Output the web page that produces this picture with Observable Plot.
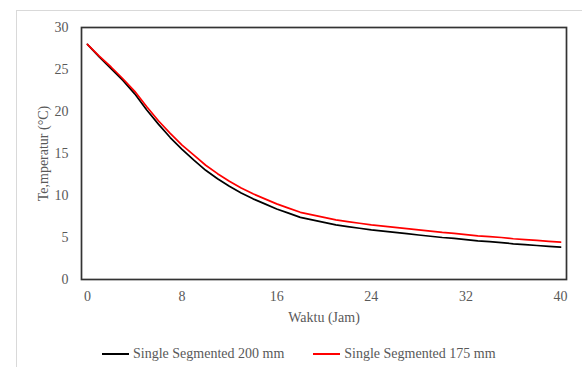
<!DOCTYPE html>
<html><head><meta charset="utf-8">
<script src="https://cdn.jsdelivr.net/npm/d3@7"></script>
<script src="https://cdn.jsdelivr.net/npm/@observablehq/plot@0.6"></script>
<style>
body{margin:0;background:#fff;font-family:"Liberation Serif","Times New Roman",serif;}
#wrap{position:relative;width:582px;height:367px;overflow:hidden;}
#border{position:absolute;left:16px;top:10px;right:-2px;bottom:-2px;border-top:1px solid #d9d9d9;border-left:1px solid #d9d9d9;}
#chart{position:absolute;left:0;top:0;}
#legend{position:absolute;left:102px;top:346px;display:flex;align-items:center;font-size:14px;color:#595959;line-height:16px;white-space:nowrap;}
.item{display:flex;align-items:center;}
.sw{width:27px;height:0;border-top:2px solid;margin-right:4px;}
</style>
</head><body>
<div id="wrap"><div id="border"></div><div id="chart"></div><div id="legend"></div></div>
<script>
const hours = [0,1,2,3,4,5,6,7,8,9,10,11,12,13,14,15,16,17,18,19,20,21,22,23,24,25,26,27,28,29,30,31,32,33,34,35,36,37,38,39,40];
const temp200 = [28.0,26.5,25.1,23.7,22.1,20.2,18.5,16.9,15.5,14.2,13.0,12.0,11.1,10.3,9.6,9.0,8.4,7.9,7.4,7.1,6.8,6.5,6.3,6.1,5.9,5.75,5.6,5.45,5.3,5.15,5.0,4.9,4.75,4.6,4.5,4.4,4.25,4.15,4.05,3.95,3.85];
const temp175 = [28.0,26.6,25.3,23.9,22.4,20.6,18.9,17.4,16.0,14.8,13.6,12.6,11.7,10.9,10.2,9.6,9.0,8.5,8.0,7.7,7.4,7.1,6.9,6.7,6.5,6.35,6.2,6.05,5.9,5.75,5.6,5.5,5.35,5.2,5.1,5.0,4.85,4.75,4.65,4.55,4.45];
const seriesNames = ["Single Segmented 200 mm","Single Segmented 175 mm"];
const seriesColors = ["#000000","#ff0000"];
const xTicks = [0,8,16,24,32,40];
const yTicks = [0,5,10,15,20,25,30];
const xLabel = "Waktu (Jam)";
const yLabel = "Te,mperatur (°C)";

const data = [];
hours.forEach((h,i)=>{ data.push({h, v: temp200[i], s: seriesNames[0]}); });
hours.forEach((h,i)=>{ data.push({h, v: temp175[i], s: seriesNames[1]}); });

const chart = Plot.plot({
  width: 582,
  height: 330,
  marginLeft: 81,
  marginRight: 16,
  marginTop: 27,
  marginBottom: 51,
  style: {fontFamily: '"Liberation Serif","Times New Roman",serif', fontSize: "14px", color: "#595959", background: "transparent", overflow: "visible"},
  x: {domain: [-0.5, 40.5], ticks: xTicks, tickSize: 0, tickPadding: 12, label: null},
  y: {domain: [0, 30], ticks: yTicks, tickSize: 0, tickPadding: 13, label: null},
  color: {domain: seriesNames, range: seriesColors},
  marks: [
    Plot.line(data, {x: "h", y: "v", stroke: "s", z: "s", strokeWidth: 1.7}),
    Plot.frame({stroke: "#333333", strokeWidth: 1.7}),
    Plot.text([xLabel], {frameAnchor: "bottom", dy: 38, lineAnchor: "middle", textAnchor: "middle", text: d => d, fill: "#595959", fontSize: 14}),
    Plot.text([yLabel], {frameAnchor: "left", dx: -38, rotate: -90, textAnchor: "middle", lineAnchor: "middle", text: d => d, fill: "#595959", fontSize: 14})
  ]
});
document.getElementById("chart").appendChild(chart);

const legend = document.getElementById("legend");
seriesNames.forEach((n,i)=>{
  const it = document.createElement("div");
  it.className = "item";
  if (i > 0) it.style.marginLeft = "29px";
  const sw = document.createElement("span");
  sw.className = "sw";
  sw.style.borderColor = seriesColors[i];
  const tx = document.createElement("span");
  tx.textContent = n;
  it.appendChild(sw); it.appendChild(tx);
  legend.appendChild(it);
});
</script>
</body></html>
